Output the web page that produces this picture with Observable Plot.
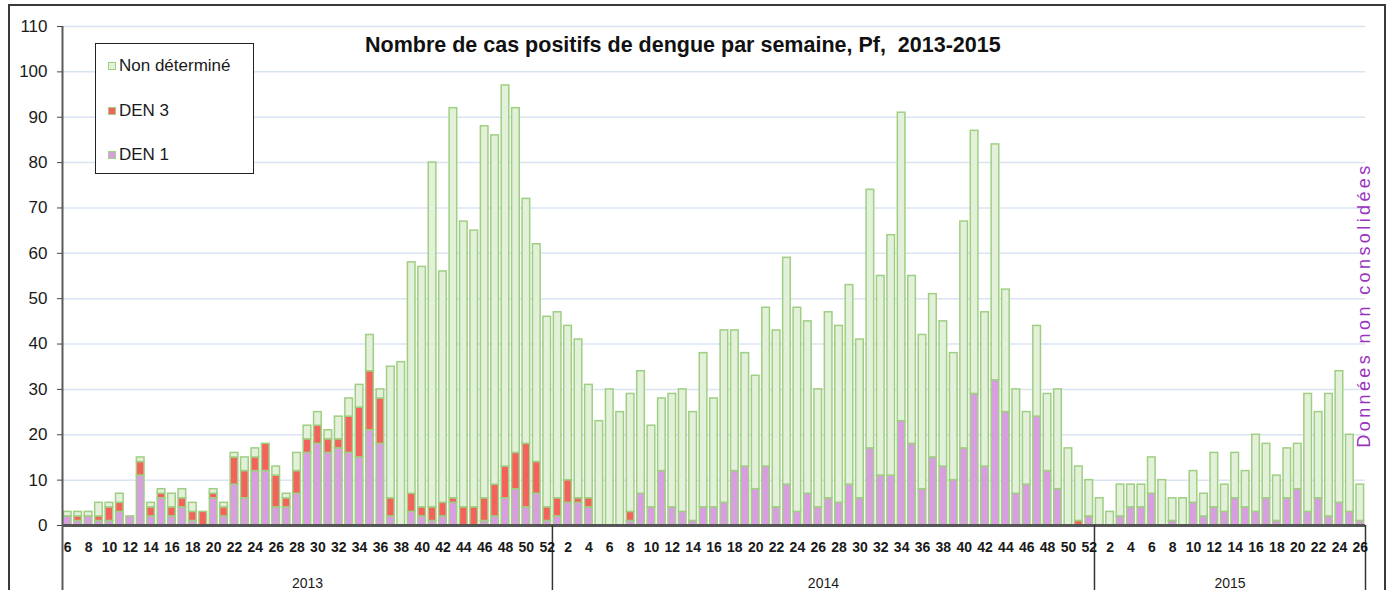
<!DOCTYPE html>
<html>
<head>
<meta charset="utf-8">
<script src="https://cdn.jsdelivr.net/npm/d3@7"></script>
<script src="https://cdn.jsdelivr.net/npm/@observablehq/plot@0.6"></script>
<style>
  body { margin: 0; background: #fff; font-family: "Liberation Sans", Arial, sans-serif; }
  #wrap { position: relative; width: 1391px; height: 590px; overflow: hidden; background: #fff; }
  #border { position: absolute; left: 8px; top: 4px; width: 1378px; height: 620px; border: 2px solid #3a3a3a; box-sizing: border-box; pointer-events: none; }
  #chart { position: absolute; left: 0; top: 0; }
  #title { position: absolute; left: 365px; top: 33px; font-weight: bold; font-size: 21.5px; color: #111; white-space: pre; }
  #legend { position: absolute; left: 95px; top: 43px; width: 159px; height: 131px; border: 1.5px solid #222; box-sizing: border-box; background: #fff; }
  .item { position: absolute; left: 12px; height: 20px; line-height: 20px; font-size: 17px; color: #1a1a1a; white-space: nowrap; }
  .sw { display: inline-block; width: 6px; height: 6px; border: 1.5px solid #9fcf82; margin-right: 3px; vertical-align: 1px; }
  #note { position: absolute; left: 1364px; top: 305px; transform: translate(-50%, -50%) rotate(-90deg); color: #9b33bf; font-size: 18px; letter-spacing: 3.4px; white-space: nowrap; }
</style>
</head>
<body>
<div id="wrap">
  <div id="chart"></div>
  <div id="title">Nombre de cas positifs de dengue par semaine, Pf,  2013-2015</div>
  <div id="legend"></div>
  <div id="note">Données non consolidées</div>
  <div id="border"></div>
</div>
<script>
// ---- categories (week numbers per year) ----
const years = ["2013", "2014", "2015"];
const weeks2013 = [6,7,8,9,10,11,12,13,14,15,16,17,18,19,20,21,22,23,24,25,26,27,28,29,30,31,32,33,34,35,36,37,38,39,40,41,42,43,44,45,46,47,48,49,50,51,52];
const weeks2014 = [1,2,3,4,5,6,7,8,9,10,11,12,13,14,15,16,17,18,19,20,21,22,23,24,25,26,27,28,29,30,31,32,33,34,35,36,37,38,39,40,41,42,43,44,45,46,47,48,49,50,51,52];
const weeks2015 = [1,2,3,4,5,6,7,8,9,10,11,12,13,14,15,16,17,18,19,20,21,22,23,24,25,26];

// ---- series values ----
const den1_2013 = [2,1,2,1,1,3,2,11,2,6,2,4,1,0,6,2,9,6,12,12,4,4,7,16,18,16,17,16,15,21,18,2,0,3,2,1,2,5,0,0,1,2,6,8,4,7,1];
const den3_2013 = [0,1,0,1,3,2,0,3,2,1,2,2,2,3,1,2,6,6,3,6,7,2,5,3,4,3,2,8,11,13,10,4,0,4,2,3,3,1,4,4,5,7,7,8,14,7,3];
const nd_2013   = [1,1,1,3,1,2,0,1,1,1,3,2,2,0,1,1,1,3,2,0,2,1,4,3,3,2,5,4,5,8,2,29,36,51,53,76,51,86,63,61,82,77,84,76,54,48,42];

const den1_2014 = [2,5,5,4,0,0,0,1,7,4,12,4,3,1,4,4,5,12,13,8,13,4,9,3,7,4,6,5,9,6,17,11,11,23,18,8,15,13,10,17,29,13,32,25,7,9,24,12,8,0,0,2];
const den3_2014 = [4,5,1,2,0,0,0,2,0,0,0,0,0,0,0,0,0,0,0,0,0,0,0,0,0,0,0,0,0,0,0,0,0,0,0,0,0,0,0,0,0,0,0,0,0,0,0,0,0,0,1,0];
const nd_2014   = [41,34,35,25,23,30,25,26,27,18,16,25,27,24,34,24,38,31,25,25,35,39,50,45,38,26,41,39,44,35,57,44,53,68,37,34,36,32,28,50,58,34,52,27,23,16,20,17,22,17,12,8];

const den1_2015 = [0,0,2,4,4,7,0,1,0,5,2,4,3,6,4,3,6,1,6,8,3,6,2,5,3,1];
const den3_2015 = [0,0,0,0,0,0,0,0,0,0,0,0,0,0,0,0,0,0,0,0,0,0,0,0,0,0];
const nd_2015   = [6,3,7,5,5,8,10,5,6,7,5,12,6,10,8,17,12,10,11,10,26,19,27,29,17,8];

// ---- series names, colours, axis ticks ----
const seriesNames  = ["Non déterminé", "DEN 3", "DEN 1"];
const seriesColors = ["#e3f0da", "#f4625b", "#d99de2"];
const stackOrder   = ["DEN 1", "DEN 3", "Non déterminé"];
const yTicks = [0,10,20,30,40,50,60,70,80,90,100,110];

// ---- build tables ----
const perYear = [
  {year: "2013", weeks: weeks2013, "DEN 1": den1_2013, "DEN 3": den3_2013, "Non déterminé": nd_2013},
  {year: "2014", weeks: weeks2014, "DEN 1": den1_2014, "DEN 3": den3_2014, "Non déterminé": nd_2014},
  {year: "2015", weeks: weeks2015, "DEN 1": den1_2015, "DEN 3": den3_2015, "Non déterminé": nd_2015}
];
const weekRows = [];
const bars = [];
const yearSpans = [];
let idx = 0;
for (const y of perYear) {
  const start = idx;
  y.weeks.forEach((w, k) => {
    weekRows.push({i: idx, year: y.year, week: w});
    for (const s of stackOrder) {
      const v = y[s][k];
      if (v > 0) bars.push({i: idx, series: s, value: v});
    }
    idx++;
  });
  yearSpans.push({year: y.year, start, end: idx, mid: (start + idx) / 2});
}
const N = idx;
const yearBounds = yearSpans.map(d => d.end);
const xTicks = weekRows.filter(d => d.week % 2 === 0).map(d => d.i + 0.5);

const chart = Plot.plot({
  width: 1391,
  height: 590,
  marginLeft: 62,
  marginRight: 26,
  marginTop: 26,
  marginBottom: 65,
  x: {domain: [0, N], axis: null},
  y: {domain: [0, 110], axis: null},
  color: {domain: seriesNames, range: seriesColors},
  style: {fontFamily: "Liberation Sans, Arial, sans-serif", color: "#1a1a1a", background: "transparent", overflow: "visible"},
  marks: [
    Plot.gridY(yTicks.filter(d => d > 0), {stroke: "#dae4f3", strokeOpacity: 1, strokeWidth: 1.5}),
    Plot.rectY(bars, {x1: "i", x2: d => d.i + 1, y: "value", fill: "series", order: stackOrder,
      stroke: "#9fcf82", strokeWidth: 1.5, insetLeft: 1.4, insetRight: 1.4}),
    Plot.ruleY([0], {stroke: "#555", strokeWidth: 3}),
    Plot.ruleX([0], {y1: 110, y2: 0, insetBottom: -65, stroke: "#5a5a5a", strokeWidth: 2}),
    Plot.ruleX(yearBounds, {y1: 0, y2: 0, insetBottom: -65, stroke: "#333", strokeWidth: 1.5}),
    Plot.axisY(yTicks, {tickSize: 5, tickPadding: 10, fontSize: 17, stroke: "#444", label: null}),
    Plot.axisX(xTicks, {tickSize: 0, tickPadding: 17, fontSize: 14, fontWeight: "bold", label: null,
      tickFormat: d => weekRows[Math.floor(d)].week}),
    Plot.text(yearSpans, {x: "mid", text: "year", frameAnchor: "bottom", dy: 62, fontSize: 14})
  ]
});
document.getElementById("chart").appendChild(chart);

// legend (HTML) built from the series arrays
const legend = document.getElementById("legend");
const centers = [22, 67, 111];
seriesNames.forEach((name, k) => {
  const it = document.createElement("div");
  it.className = "item";
  it.style.top = (centers[k] - 10) + "px";
  const sw = document.createElement("span");
  sw.className = "sw";
  sw.style.background = seriesColors[k];
  it.appendChild(sw);
  it.appendChild(document.createTextNode(name));
  legend.appendChild(it);
});
</script>
</body>
</html>
